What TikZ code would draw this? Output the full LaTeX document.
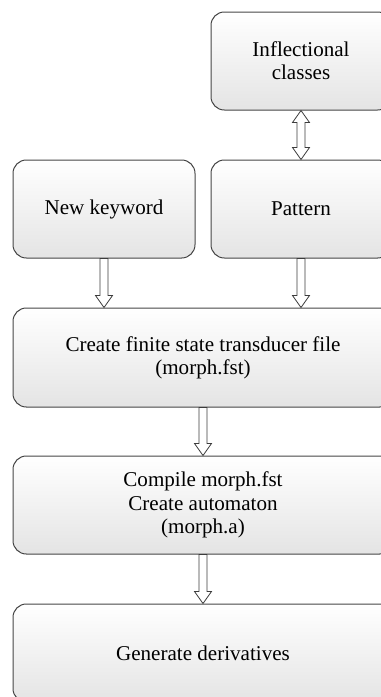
\documentclass[tikz,border=0pt]{standalone}
\usepackage{fontspec}
\setmainfont{Liberation Serif}
\usetikzlibrary{calc}

\tikzset{every picture/.style={line width=0.75pt}}
\tikzset{
  stepbox/.style={draw={rgb,255:red,70;green,70;blue,70}, rounded corners=10, top color=white, bottom color={rgb,255:red,228;green,228;blue,228}, align=center, inner sep=0pt, font=\fontsize{15.8}{17.5}\selectfont},
  hollow/.style={draw={rgb,255:red,60;green,60;blue,60}, line width=0.6pt, fill=white}
}
% hollow block arrow, from the bottom of #1 to the top of #2
\newcommand{\blockarrow}[2]{%
  \draw [hollow] ($(#1.south)+(-4,0)$) -- ($(#1.south |- #2.north)+(-4,-12)$) -- ($(#1.south |- #2.north)+(-8.5,-12)$) -- (#1.south |- #2.north) -- ($(#1.south |- #2.north)+(8.5,-12)$) -- ($(#1.south |- #2.north)+(4,-12)$) -- ($(#1.south)+(4,0)$) -- cycle ;}

\begin{document}
\begin{tikzpicture}[x=0.75pt,y=0.75pt,yscale=-1,xscale=1]
\useasboundingbox (0,0) rectangle (380,697);

% Boxes
\node [stepbox, minimum width=180*0.75pt, minimum height=98*0.75pt] (infl) at (301,61) {Inflectional\\classes};
\node [stepbox, minimum width=180*0.75pt, minimum height=98*0.75pt] (pattern) at (301,209) {Pattern};
\node [stepbox, minimum width=182*0.75pt, minimum height=98*0.75pt] (keyword) at (104,209) {New keyword};
\node [stepbox, minimum width=380*0.75pt, minimum height=99*0.75pt] (create) at (203,357.5) {Create finite state transducer file\\(morph.fst)};
\node [stepbox, minimum width=380*0.75pt, minimum height=98*0.75pt] (compile) at (203,505) {Compile morph.fst\\Create automaton\\(morph.a)};
\node [stepbox, minimum width=380*0.75pt, minimum height=98*0.75pt] (generate) at (203,653) {Generate derivatives};

% Double arrow
\draw [hollow] (infl.south) -- ($(infl.south)+(8.5,12)$) -- ($(infl.south)+(4,12)$) -- ($(pattern.north)+(4,-12)$) -- ($(pattern.north)+(8.5,-12)$) -- (pattern.north) -- ($(pattern.north)+(-8.5,-12)$) -- ($(pattern.north)+(-4,-12)$) -- ($(infl.south)+(-4,12)$) -- ($(infl.south)+(-8.5,12)$) -- cycle ;

% Arrows
\blockarrow{keyword}{create}
\blockarrow{pattern}{create}
\blockarrow{create}{compile}
\blockarrow{compile}{generate}

\end{tikzpicture}
\end{document}
